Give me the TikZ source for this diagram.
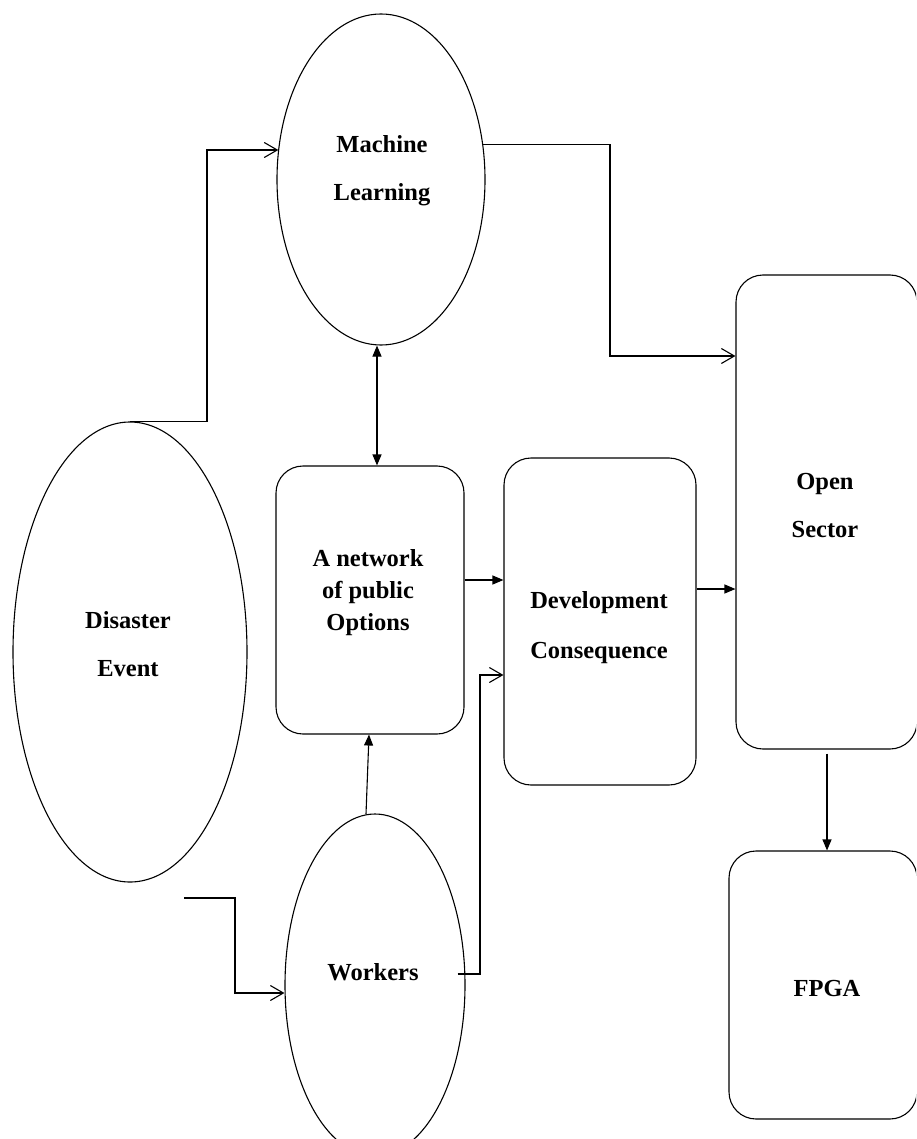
\documentclass[tikz,border=0pt]{standalone}
\usepackage{fontspec}
\setmainfont{Liberation Serif}
\usetikzlibrary{shapes.geometric,arrows.meta}
\begin{document}
\begin{tikzpicture}[x=1pt,y=-1pt,line width=1.1pt,
  oval/.style={draw,ellipse,inner sep=0pt},
  roundbox/.style={draw,rectangle,rounded corners=27pt,inner sep=0pt},
  lbl/.style={font=\fontsize{24.5}{48}\selectfont\bfseries,align=center,inner sep=0pt},
  openhead/.style={-{Straight Barb[length=13pt,width=15pt,line width=1.1pt]}},
  solidhead/.style={-{Triangle[length=11pt,width=9pt]}},
  bothheads/.style={{Triangle[length=11pt,width=9pt]}-{Triangle[length=11pt,width=9pt]}}]
\useasboundingbox (0,0) rectangle (916,1139);
\clip (0,0) rectangle (916,1139);

% shapes
\node[oval,minimum width=208pt,minimum height=331pt] (ml) at (381,179.5) {};
\node[oval,minimum width=234pt,minimum height=460pt] (dis) at (130,652) {};
\node[oval,minimum width=180pt,minimum height=342pt] (wk) at (375,985) {};
\node[roundbox,minimum width=188pt,minimum height=268pt] (net) at (370,600) {};
\node[roundbox,minimum width=192pt,minimum height=327pt] (dev) at (600,621.5) {};
\node[roundbox,minimum width=181pt,minimum height=474pt] (os) at (826.5,512) {};
\node[roundbox,minimum width=188pt,minimum height=268pt] (fp) at (823,985) {};

% labels
\node[lbl] (mlt) at (382,171) {Machine\\Learning};
\node[lbl] (dist) at (128,644) {Disaster\\Event};
\node[lbl] (wkt) at (373,972) {Workers};
\node[lbl,font=\fontsize{24.5}{32}\selectfont\bfseries] (nett) at (368,593) {A network\\of public\\Options};
\node[lbl,font=\fontsize{24.5}{50}\selectfont\bfseries] (devt) at (599,628) {Development\\Consequence};
\node[lbl] (ost) at (825,506) {Open\\Sector};
\node[lbl] (fpt) at (827,988) {FPGA};

% bend points
\coordinate (c1) at (207,150);
\coordinate (c2) at (610,356);
\coordinate (c3) at (377,0);
\coordinate (c4) at (0,580);
\coordinate (c5) at (0,589);
\coordinate (c6) at (366,814);
\coordinate (c6b) at (369,0);
\coordinate (c7) at (480,974);
\coordinate (c8) at (0,675);
\coordinate (c9) at (184,898);
\coordinate (c10) at (235,993);
\coordinate (c11) at (827,0);

% connectors
\draw[openhead] (dis.north) -| (c1) -- (c1 -| ml.163.6);
\draw[openhead] (ml.19.2) -| (c2) -- (os.west |- c2);
\draw[bothheads] (ml.south -| c3) -- (net.north -| c3);
\draw[solidhead] (net.east |- c4) -- (dev.west |- c4);
\draw[solidhead] (dev.east |- c5) -- (os.west |- c5);
\draw[solidhead] (c6) -- (net.south -| c6b);
\draw[openhead] ([xshift=-8pt]wk.east |- c7) -- (c7) |- (dev.west |- c8);
\draw[openhead] (c9) -| (c10) -- (wk.west |- c10);
\draw[solidhead] ([yshift=-4pt]os.south -| c11) -- (fp.north -| c11);
\end{tikzpicture}
\end{document}
